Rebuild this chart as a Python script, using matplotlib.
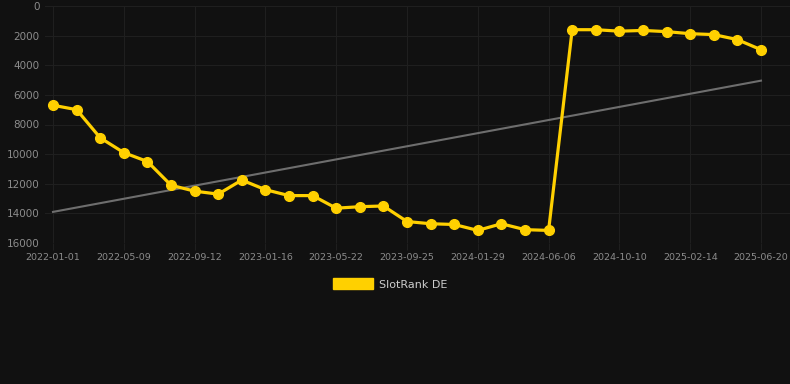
import matplotlib.pyplot as plt
from matplotlib.patches import Patch

dates = ['2022-01-01', '2022-05-09', '2022-09-12', '2023-01-16', '2023-05-22',
         '2023-09-25', '2024-01-29', '2024-06-06', '2024-10-10', '2025-02-14',
         '2025-06-20']
rank = [6700, 7000, 8900, 9900, 10500, 12100, 12500, 12700, 11750, 12400,
        12800, 12800, 13650, 13550, 13500, 14550, 14700, 14750, 15150, 14700,
        15100, 15150, 1600, 1600, 1700, 1650, 1730, 1870, 1930, 2270, 2950]
trend = [13900, 5040]

bg = '#111111'
grid_c = '#1f1f1f'
yellow = '#FFD000'

fig = plt.figure(figsize=(7.9, 3.84), dpi=100, facecolor=bg)
ax = fig.add_axes([45 / 790, 1 - 243 / 384, 745 / 790, 237 / 384], facecolor=bg)

x = list(range(len(rank)))
ax.plot([x[0], x[-1]], trend, color='#6e6e6e', lw=1.5, zorder=2)
ax.plot(x, rank, color=yellow, lw=2.3, marker='o', markersize=7, zorder=3)

ax.set_ylim(16000, 0)
ax.set_yticks(range(0, 16001, 2000))
ax.set_xlim(-0.34, 31.23)
ax.set_xticks(x[::3])
ax.set_xticklabels(dates)

ax.grid(True, color=grid_c, lw=0.8)
ax.set_axisbelow(True)
for s in ax.spines.values():
    s.set_visible(False)
ax.tick_params(axis='y', length=0, pad=4, labelsize=7.5, labelcolor='#8c8c8c')
ax.tick_params(axis='x', length=5, color=grid_c, pad=2, labelsize=6.8, labelcolor='#8c8c8c')

handle = Patch(facecolor=yellow, edgecolor=yellow)
fig.legend([handle], ['SlotRank DE'], loc='center', bbox_to_anchor=(0.494, 1 - 284 / 384),
           frameon=False, fontsize=8, labelcolor='#cccccc', handlelength=3.6,
           handleheight=1.1, handletextpad=0.5)

fig.savefig('out.png', dpi=100, facecolor=bg)
